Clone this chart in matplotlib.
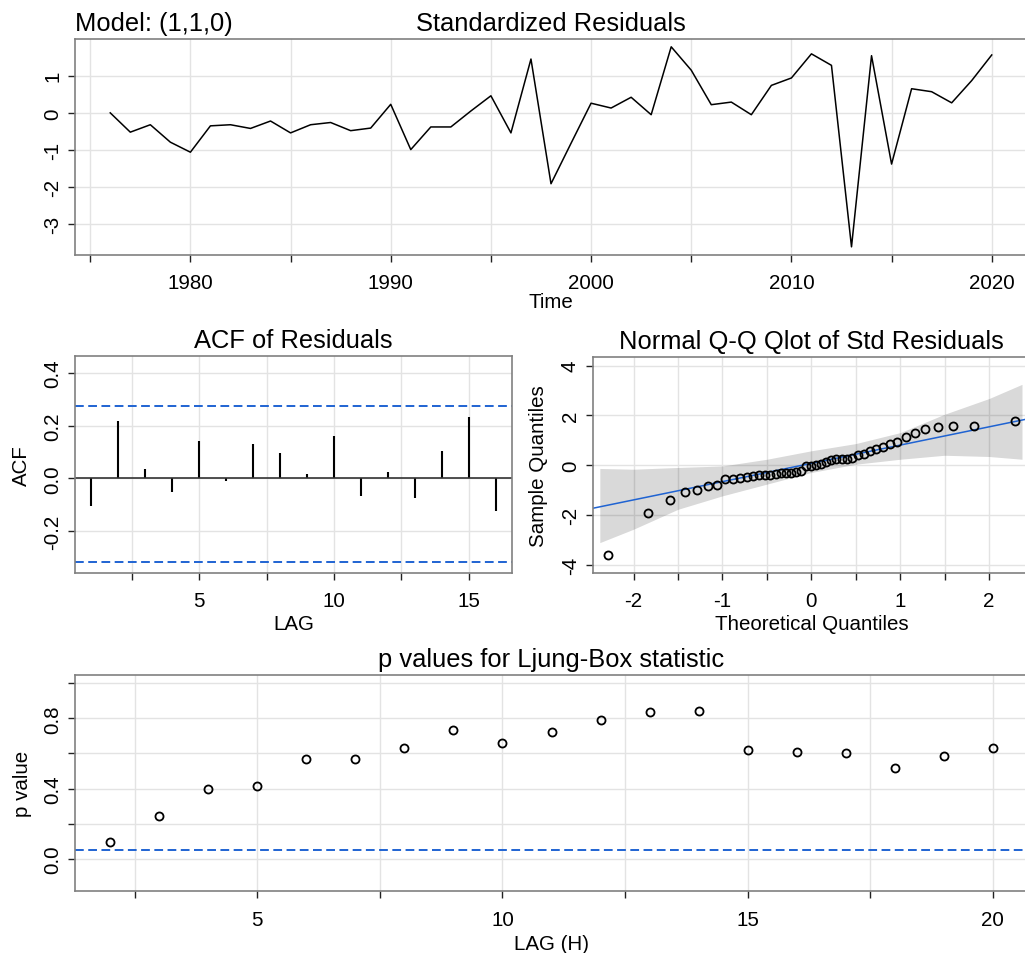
import numpy as np
import matplotlib
matplotlib.use('Agg')
import matplotlib.pyplot as plt

plt.rcParams['font.family'] = ['Liberation Sans', 'DejaVu Sans']
plt.rcParams['axes.unicode_minus'] = False

# ---------------- data ----------------
years = np.arange(1976, 2021)
resid = [0.00, -0.52, -0.32, -0.79, -1.06, -0.35, -0.32, -0.42, -0.22, -0.54,
         -0.32, -0.26, -0.48, -0.41, 0.23, -0.99, -0.38, -0.38, 0.05, 0.46,
         -0.54, 1.45, -1.91, -0.82, 0.26, 0.13, 0.42, -0.05, 1.78, 1.15,
         0.22, 0.29, -0.05, 0.74, 0.94, 1.59, 1.28, -3.61, 1.54, -1.38,
         0.65, 0.57, 0.27, 0.87, 1.56]

acf_lags = np.arange(1, 17)
acf_vals = [-0.106, 0.216, 0.035, -0.052, 0.140, -0.009, 0.130, 0.095,
            0.018, 0.160, -0.066, 0.025, -0.076, 0.103, 0.232, -0.125]
acf_upper = 0.276
acf_lower = -0.320

theo_q = [-2.287, -1.834, -1.593, -1.420, -1.282, -1.164, -1.060, -0.967, -0.882,
          -0.803, -0.728, -0.657, -0.590, -0.524, -0.462, -0.401, -0.341, -0.282,
          -0.225, -0.168, -0.112, -0.056, 0.0, 0.056, 0.112, 0.168, 0.225, 0.282,
          0.341, 0.401, 0.462, 0.524, 0.590, 0.657, 0.728, 0.803, 0.882, 0.967,
          1.060, 1.164, 1.282, 1.420, 1.593, 1.834, 2.287]
band_x = [-2.38, -2.0, -1.5, -1.0, -0.5, 0.0, 0.5, 1.0, 1.5, 2.0, 2.37]
band_hi = [-0.13, -0.16, -0.09, -0.03, 0.24, 0.58, 0.87, 1.31, 2.05, 2.68, 3.25]
band_lo = [-3.11, -2.57, -1.77, -1.23, -0.76, -0.29, 0.04, 0.24, 0.40, 0.35, 0.24]

lb_lags = np.arange(2, 21)
lb_pvals = [0.095, 0.246, 0.396, 0.417, 0.567, 0.567, 0.629, 0.732, 0.662, 0.724,
            0.792, 0.834, 0.840, 0.622, 0.607, 0.601, 0.519, 0.588, 0.629]
lb_alpha = 0.05

BLUE = '#1f63d2'
GRID = '#e3e3e3'
TSIZE = 18.4
LSIZE = 14.8


def style(ax, xt, xl, yt, yl):
    ax.set_xticks(xt)
    ax.set_xticklabels(xl)
    ax.set_yticks(yt)
    ax.set_yticklabels(yl, rotation=90, va='center')
    ax.set_axisbelow(True)
    ax.grid(True, color=GRID, lw=1.0)
    for s in ax.spines.values():
        s.set_color('#808080')
        s.set_linewidth(1.2)
    ax.tick_params(length=4.7, width=1, color='#222222', labelsize=LSIZE)
    ax.tick_params(axis='x', pad=8.5)
    ax.tick_params(axis='y', pad=4.5)


W, H = 1025, 954
fig = plt.figure(figsize=(W / 100, H / 100), dpi=100)


def box(l, t, r, b):
    return fig.add_axes([l / W, 1 - b / H, (r - l) / W, (b - t) / H])


# ---------------- standardized residuals ----------------
ax1 = box(75, 40, 1027, 256)
ax1.plot(years, resid, color='black', lw=1.1)
ax1.set_xlim(1974.24, 2021.76)
ax1.set_ylim(-3.83, 1.99)
style(ax1, np.arange(1975, 2021, 5),
      ['', '1980', '', '1990', '', '2000', '', '2010', '', '2020'],
      [-3, -2, -1, 0, 1], ['-3', '-2', '-1', '0', '1'])
ax1.set_title('Standardized Residuals', fontsize=TSIZE, pad=6.5)
ax1.set_title('Model: (1,1,0)', loc='left', fontsize=TSIZE, pad=6.5)
ax1.set_xlabel('Time', fontsize=LSIZE)
ax1.xaxis.set_label_coords(0.5, -0.171)

# ---------------- ACF of residuals ----------------
ax2 = box(75, 357, 512, 574)
ax2.vlines(acf_lags, 0, acf_vals, color='black', lw=1.5)
ax2.axhline(0, color='#333333', lw=1.2)
ax2.axhline(acf_upper, color=BLUE, lw=1.4, ls=(0, (4.5, 2.3)))
ax2.axhline(acf_lower, color=BLUE, lw=1.4, ls=(0, (4.5, 2.3)))
ax2.set_xlim(0.4, 16.6)
ax2.set_ylim(-0.36, 0.465)
style(ax2, [2.5, 5, 7.5, 10, 12.5, 15], ['', '5', '', '10', '', '15'],
      [-0.2, 0.0, 0.2, 0.4], ['-0.2', '0.0', '0.2', '0.4'])
ax2.set_title('ACF of Residuals', fontsize=TSIZE, pad=6.5)
ax2.set_xlabel('LAG', fontsize=LSIZE)
ax2.set_ylabel('ACF', fontsize=LSIZE)
ax2.xaxis.set_label_coords(0.5, -0.189)
ax2.yaxis.set_label_coords(-0.100, 0.5)

# ---------------- normal QQ ----------------
ax3 = box(592.7, 357.7, 1030, 574)
ax3.fill_between(band_x, band_lo, band_hi, color='black', alpha=0.15, lw=0, zorder=1.5)
sample_q = np.sort(resid)
q1, q3 = np.percentile(resid, [25, 75])
slope = (q3 - q1) / (2 * 0.6745)
icpt = q1 + slope * 0.6745
ax3.axline((0, icpt), slope=slope, color=BLUE, lw=1.1, zorder=2)
ax3.plot(theo_q, sample_q, 'o', mfc='none', mec='black', ms=5.8, mew=1.3, zorder=3)
ax3.set_xlim(-2.46, 2.46)
ax3.set_ylim(-4.33, 4.36)
style(ax3, np.arange(-2, 2.01, 0.5), ['-2', '', '-1', '', '0', '', '1', '', '2'],
      [-4, -2, 0, 2, 4], ['-4', '-2', '0', '2', '4'])
ax3.set_title('Normal Q-Q Qlot of Std Residuals', fontsize=TSIZE, pad=6.5)
ax3.set_xlabel('Theoretical Quantiles', fontsize=LSIZE)
ax3.set_ylabel('Sample Quantiles', fontsize=LSIZE)
ax3.xaxis.set_label_coords(0.5, -0.1895)
ax3.yaxis.set_label_coords(-0.1015, 0.5)

# ---------------- Ljung-Box p values ----------------
ax4 = box(75, 676, 1028, 892.3)
ax4.plot(lb_lags, lb_pvals, 'o', mfc='none', mec='black', ms=5.8, mew=1.3)
ax4.axhline(lb_alpha, color=BLUE, lw=1.4, ls=(0, (4.5, 2.3)))
ax4.set_xlim(1.28, 20.72)
ax4.set_ylim(-0.184, 1.046)
style(ax4, np.arange(2.5, 20.1, 2.5), ['', '5', '', '10', '', '15', '', '20'],
      [0, 0.2, 0.4, 0.6, 0.8, 1.0], ['0.0', '', '0.4', '', '0.8', ''])
ax4.set_title('p values for Ljung-Box statistic', fontsize=TSIZE, pad=6.5)
ax4.set_xlabel('LAG (H)', fontsize=LSIZE)
ax4.set_ylabel('p value', fontsize=LSIZE)
ax4.xaxis.set_label_coords(0.5, -0.197)
ax4.yaxis.set_label_coords(-0.0448, 0.5)

fig.savefig('out.png', dpi=100)
